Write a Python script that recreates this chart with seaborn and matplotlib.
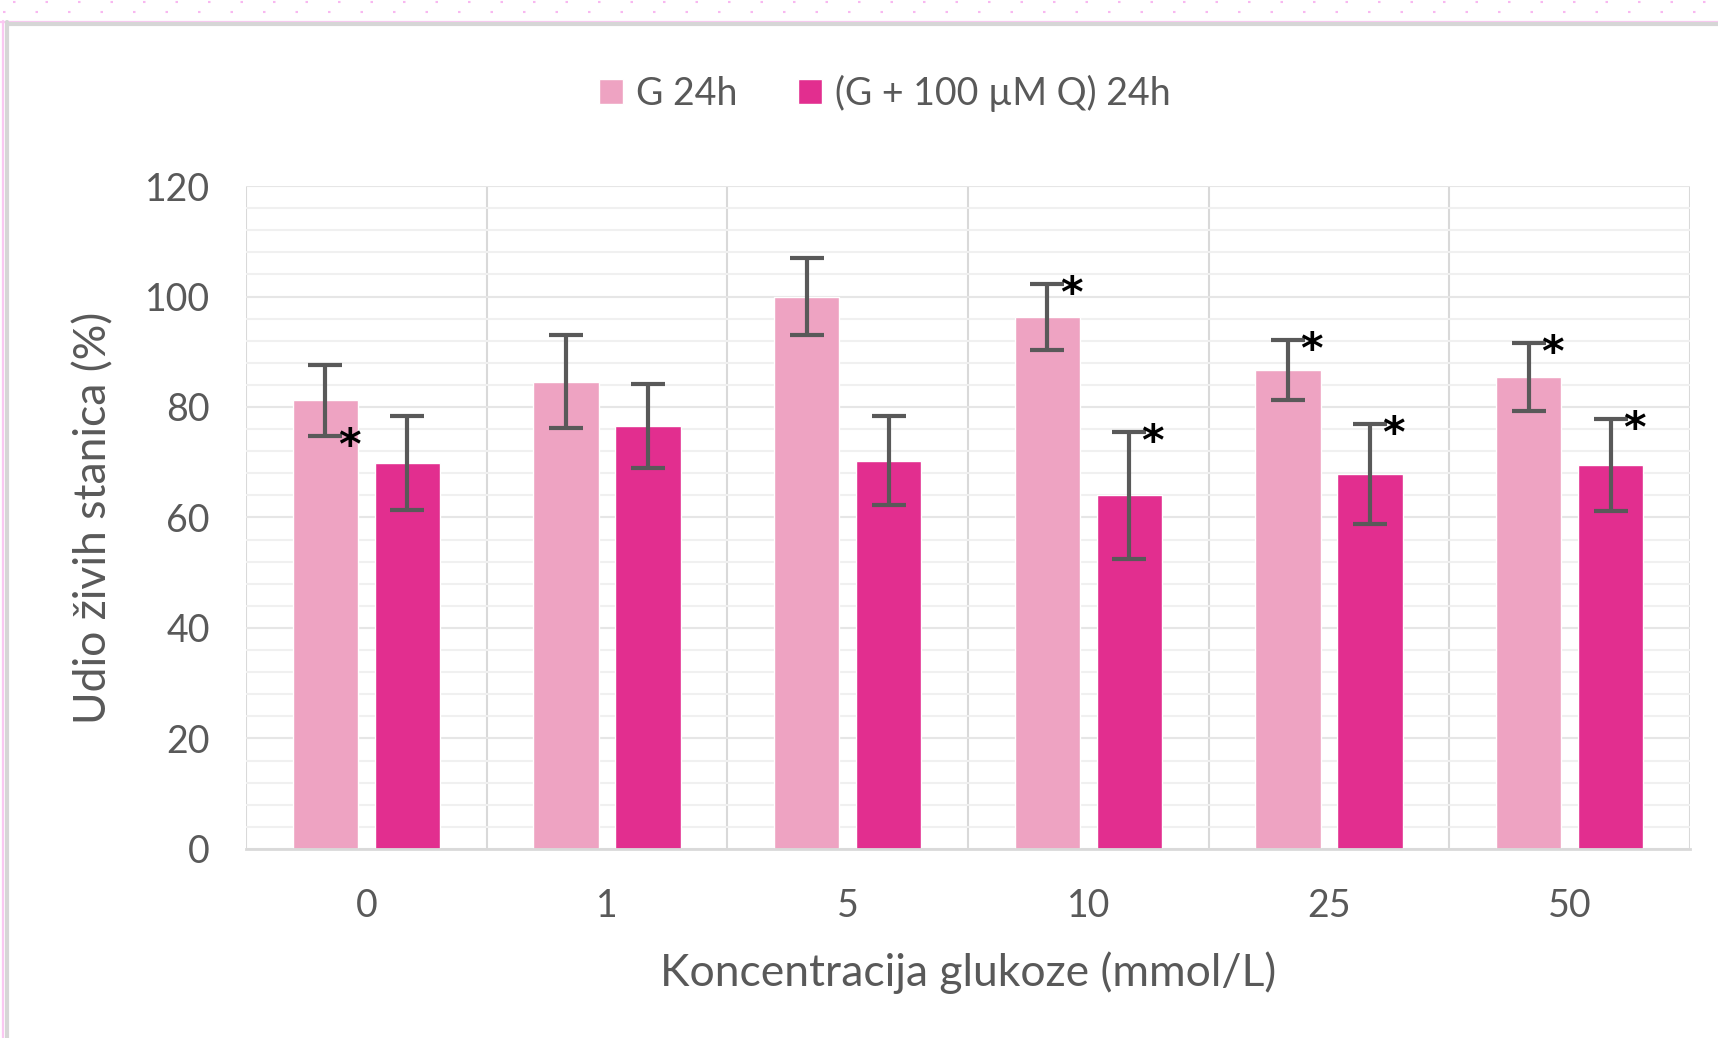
import numpy as np
import pandas as pd
import matplotlib
matplotlib.use("Agg")
import matplotlib.pyplot as plt
from matplotlib.lines import Line2D
import seaborn as sns

# ---- data ----
concentrations = ["0", "1", "5", "10", "25", "50"]
series_names = ["G 24h", "(G + 100 µM Q) 24h"]
g_values = [81.2, 84.6, 100.0, 96.3, 86.7, 85.4]
g_sd = [6.4, 8.4, 6.9, 5.9, 5.4, 6.2]
q_values = [69.9, 76.6, 70.3, 64.0, 67.9, 69.5]
q_sd = [8.5, 7.6, 8.0, 11.5, 9.0, 8.4]
# significance markers: "top" = beside upper cap, "bottom" = beside lower cap, None = none
g_star = ["bottom", None, None, "top", "top", "top"]
q_star = [None, None, None, "top", "top", "top"]

colors = ["#EEA3C2", "#E22E8F"]
text_color = "#595959"

df = pd.DataFrame({
    "conc": concentrations * 2,
    "series": [series_names[0]] * len(concentrations) + [series_names[1]] * len(concentrations),
    "value": g_values + q_values,
})

sns.set_theme(style="white")
plt.rcParams["font.family"] = ["Lato", "DejaVu Sans"]

fig = plt.figure(figsize=(17.18, 10.38), dpi=100)
ax = fig.add_axes([0.1432, 0.1821, 0.8405, 0.6387])

sns.barplot(data=df, x="conc", y="value", hue="series", order=concentrations,
            hue_order=series_names, palette=colors, width=0.68, gap=0.2,
            errorbar=None, saturation=1, ax=ax)

# error bars + asterisks
bar_containers = list(ax.containers)
sds = [g_sd, q_sd]
stars = [g_star, q_star]
for ci, cont in enumerate(bar_containers):
    xs = [b.get_x() + b.get_width() / 2 for b in cont]
    hs = [b.get_height() for b in cont]
    ax.errorbar(xs, hs, yerr=sds[ci], fmt="none", ecolor=text_color,
                elinewidth=3, capsize=12, capthick=3, zorder=5)
    for x, h, s, st in zip(xs, hs, sds[ci], stars[ci]):
        if st is None:
            continue
        yv = h + s if st == "top" else h - s
        ax.annotate("*", xy=(x, yv), xytext=(17, -8), textcoords="offset points",
                    ha="center", va="center", fontsize=31, fontweight="bold",
                    color="black", family="DejaVu Sans", zorder=6)

# axes styling
ax.set_ylim(0, 120)
ax.set_xlim(-0.5, len(concentrations) - 0.5)
ax.set_yticks(np.arange(0, 121, 20))
ax.set_yticks(np.arange(0, 121, 4), minor=True)
ax.set_xticks(np.arange(-0.5, len(concentrations), 1), minor=True)
ax.yaxis.grid(True, which="minor", color="#F0F0F0", linewidth=1.5, zorder=0)
ax.yaxis.grid(True, which="major", color="#E6E6E6", linewidth=1.5, zorder=0)
ax.xaxis.grid(True, which="minor", color="#D9D9D9", linewidth=1.5, zorder=0)
ax.xaxis.grid(False, which="major")
ax.set_axisbelow(True)
for side in ["top", "right", "left"]:
    ax.spines[side].set_visible(False)
ax.spines["bottom"].set_color("#D9D9D9")
ax.spines["bottom"].set_linewidth(2)

ax.tick_params(axis="both", which="both", length=0, colors=text_color, labelsize=27)
ax.tick_params(axis="y", pad=26)
ax.tick_params(axis="x", pad=28)
ax.set_xlabel("Koncentracija glukoze (mmol/L)", fontsize=32, color=text_color, labelpad=20)
ax.set_ylabel("Udio živih stanica (%)", fontsize=32, color=text_color, labelpad=22)

# legend
handles, labels = ax.get_legend_handles_labels()
ax.legend(handles, labels, loc="center", bbox_to_anchor=(0.515, 0.91),
          bbox_transform=fig.transFigure, ncol=2, frameon=False, fontsize=27,
          handlelength=0.65, handleheight=0.65, handletextpad=0.35,
          columnspacing=1.6, labelcolor=text_color)

# chart frame decoration (screenshot border)
W, H = 1718, 1038
def fx(px): return px / W
def fy(py): return 1 - py / H
fig.add_artist(Line2D([fx(0), fx(W)], [fy(21.5), fy(21.5)], color="#FAC8F2", lw=1.6))
fig.add_artist(Line2D([fx(7), fx(W)], [fy(24), fy(24)], color="#D6D6D6", lw=3))
fig.add_artist(Line2D([fx(3), fx(3)], [fy(21), fy(H)], color="#FAC8F2", lw=1.6))
fig.add_artist(Line2D([fx(7), fx(7)], [fy(22), fy(H)], color="#D6D6D6", lw=3))
fig.add_artist(Line2D([fx(13), fx(W)], [fy(1.5), fy(1.5)], color="#F8B8F0", lw=1.5,
                      linestyle=(0, (1.2, 14.4))))
fig.add_artist(Line2D([fx(2.5), fx(W)], [fy(12), fy(12)], color="#F8B8F0", lw=1.5,
                      linestyle=(0, (1.2, 14.4))))

fig.savefig("out.png", dpi=100, facecolor="white")
